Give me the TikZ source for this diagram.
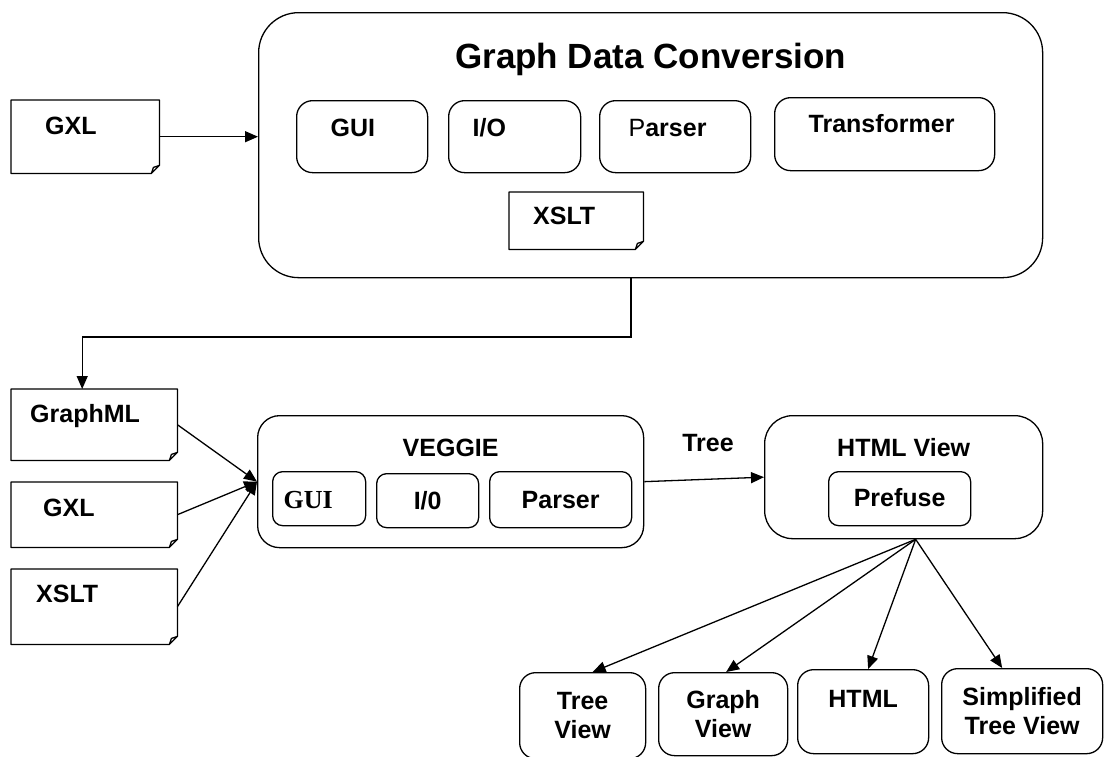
\documentclass[tikz,border=0pt]{standalone}
\usepackage{fontspec}
\setmainfont{Liberation Sans}
\newfontfamily\timesfont{Liberation Serif}
\usetikzlibrary{arrows.meta}

\newcommand\lbl{\fontsize{25}{29}\selectfont\bfseries}

\begin{document}
\begin{tikzpicture}[x=1pt, y=-1pt,
    every node/.style={anchor=north west, inner ysep=0pt, text=black, font=\lbl},
    rbox/.style={draw, line width=1.3pt, rounded corners=#1},
    rbox/.default=16pt,
    doc/.style={align=left},
    docline/.style={line width=1.3pt, line join=round},
    arr/.style={line width=1.3pt, -{Triangle[length=13pt,width=11pt]}},
    ]
    \path[fill=white, use as bounding box] (0,0) rectangle (1106,756);

    % converter block
    \node[doc, text width=80pt, inner xsep=34pt, text height=34pt, text depth=39pt] (gxltop) at (11,100) {GXL};
    \node[rbox=40pt, minimum width=784pt, inner xsep=0pt, text height=55.5pt, text depth=209.5pt,
          font=\fontsize{35}{40}\selectfont\bfseries] (conv) at (258,12) {Graph Data Conversion};
    \node[rbox, doc, text width=63pt, inner xsep=34pt, text height=36pt, text depth=36pt] (gui) at (296,100) {GUI};
    \node[rbox, doc, text width=84pt, inner xsep=24pt, text height=36pt, text depth=36pt] (io) at (448,100) {I/O};
    \node[rbox, doc, text width=93pt, inner xsep=29pt, text height=36pt, text depth=36pt] (parser) at (599,100) {{\mdseries P}arser};
    \node[rbox, doc, text width=152pt, inner xsep=34pt, text height=35pt, text depth=38pt] (trans) at (774,97) {Transformer};
    \node[doc, text width=86pt, inner xsep=24pt, text height=32pt, text depth=25pt] (xsltc) at (509,192) {XSLT};

    % inputs of VEGGIE
    \node[doc, text width=128pt, inner xsep=19pt, text height=33pt, text depth=38pt] (graphml) at (11,389) {GraphML};
    \node[doc, text width=102pt, inner xsep=32pt, text height=34pt, text depth=31pt] (gxl) at (11,482) {GXL};
    \node[doc, text width=116pt, inner xsep=25pt, text height=33pt, text depth=42pt] (xslt) at (11,569) {XSLT};

    % VEGGIE
    \node[rbox=22pt, minimum width=386pt, text height=41pt, text depth=91pt] (veggie) at (257,415) {VEGGIE};
    \node[rbox=10pt, doc, text width=71pt, inner xsep=11pt, text height=36.5pt, text depth=17.5pt,
          font=\timesfont\fontsize{26}{30}\selectfont\bfseries] (vgui) at (272,471) {GUI};
    \node[rbox=10pt, minimum width=102pt, text height=36pt, text depth=18pt] (vio) at (376,473) {I/0};
    \node[rbox=10pt, minimum width=142pt, text height=37pt, text depth=19pt] (vparser) at (489,471) {Parser};

    % HTML view
    \node[rbox=28pt, minimum width=278pt, text height=41pt, text depth=82pt] (htmlv) at (764,415) {HTML View};
    \node[rbox=10pt, minimum width=142pt, text height=35pt, text depth=19pt] (prefuse) at (828,471) {Prefuse};
    \node[anchor=center] (treelbl) at (708,443) {Tree};

    % views
    \node[rbox, align=center, minimum width=126pt, minimum height=86pt] (treev) at (519,672) {Tree\\View};
    \node[rbox, align=center, minimum width=129pt, minimum height=83pt] (graphv) at (658,672) {Graph\\View};
    \node[rbox, minimum width=131pt, text height=38pt, text depth=46pt] (htmlb) at (797,669) {HTML};
    \node[rbox, align=center, minimum width=161pt, minimum height=85pt] (simp) at (941,668) {Simplified\\Tree View};

    % document outlines
    \foreach \d in {gxltop,xsltc,graphml,gxl,xslt}
      \draw[docline] (\d.north west) -- (\d.north east) -- ([yshift=8pt]\d.south east)
        -- ([xshift=-8pt]\d.south east) -- (\d.south west) -- cycle
        ([yshift=8pt]\d.south east) -- ([xshift=-6pt,yshift=6pt]\d.south east) -- ([xshift=-8pt]\d.south east);

    % connectors
    \coordinate (elbow) at (631,337);
    \draw[arr] (gxltop.east) -- (gxltop.east -| conv.west);
    \draw[arr] (elbow |- conv.south) -- (elbow) -| ([xshift=-12pt]graphml.north);
    \foreach \d in {graphml,gxl,xslt}
      \draw[arr] (\d.east) -- (veggie.west);
    \draw[arr] (veggie.east) -- (htmlv.west);
    \coordinate (fan) at ([xshift=12pt]htmlv.south);
    \draw[arr] (fan) -- ([xshift=10pt]treev.north);
    \draw[arr] (fan) -- ([xshift=3pt]graphv.north);
    \draw[arr] (fan) -- ([xshift=5pt]htmlb.north);
    \draw[arr] (fan) -- ([xshift=-20pt]simp.north);
\end{tikzpicture}
\end{document}
